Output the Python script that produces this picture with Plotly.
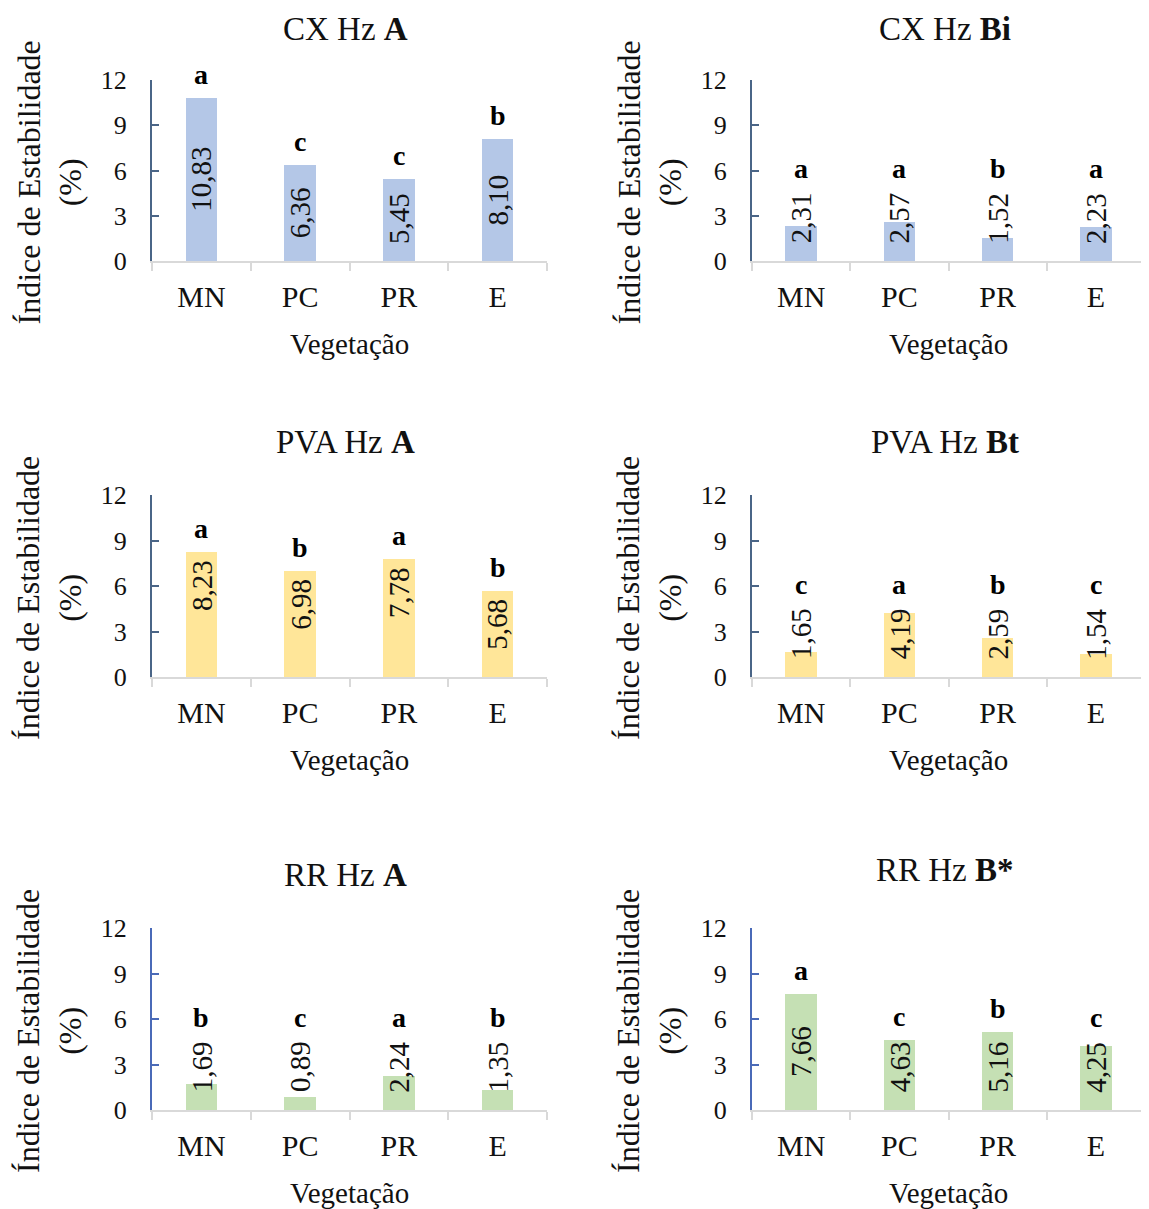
import plotly.graph_objects as go

categories = ["MN", "PC", "PR", "E"]

titles = ["CX Hz <b>A</b>", "CX Hz <b>Bi</b>",
          "PVA Hz <b>A</b>", "PVA Hz <b>Bt</b>",
          "RR Hz <b>A</b>", "RR Hz <b>B*</b>"]

cx_a = [10.83, 6.36, 5.45, 8.10]
cx_bi = [2.31, 2.57, 1.52, 2.23]
pva_a = [8.23, 6.98, 7.78, 5.68]
pva_bt = [1.65, 4.19, 2.59, 1.54]
rr_a = [1.69, 0.89, 2.24, 1.35]
rr_b = [7.66, 4.63, 5.16, 4.25]

letters_cx_a = ["a", "c", "c", "b"]
letters_cx_bi = ["a", "a", "b", "a"]
letters_pva_a = ["a", "b", "a", "b"]
letters_pva_bt = ["c", "a", "b", "c"]
letters_rr_a = ["b", "c", "a", "b"]
letters_rr_b = ["a", "c", "b", "c"]

y_ticks = [0, 3, 6, 9, 12]

series = [cx_a, cx_bi, pva_a, pva_bt, rr_a, rr_b]
letters = [letters_cx_a, letters_cx_bi, letters_pva_a, letters_pva_bt, letters_rr_a, letters_rr_b]

# styling
OFF = 8  # page body margin
W, H = 1149 - OFF, 1209 - OFF
FONT = "Liberation Serif, Times New Roman, serif"
bar_colors = ["#b4c7e7", "#b4c7e7", "#ffe699", "#ffe699", "#c5e0b4", "#c5e0b4"]
yline_colors = ["#4a6587", "#4a6587", "#4a6587", "#4a6587", "#4a6ab8", "#4a6ab8"]
label_mode = ["center", "center", "end", "center", "center", "center"]

# plot-area boxes in screen pixels (left, right) / (top, bottom)
col_x = [(152, 547), (752, 1145)]
row_y = [(80, 261), (495, 677), (928, 1110)]
title_y = [(29, 29), (442, 442), (875, 870)]
xtitle_offset = 83


def px(v):
    return (v - OFF) / W


def py(v):
    return 1 - (v - OFF) / H


fig = go.Figure()
annotations = []

for i, vals in enumerate(series):
    r, c = divmod(i, 2)
    x0, x1 = col_x[c]
    yt, yb = row_y[r]
    ppu = (yb - yt) / 12.0
    xa = "x" if i == 0 else f"x{i+1}"
    ya = "y" if i == 0 else f"y{i+1}"
    fig.add_trace(go.Bar(x=categories, y=vals, xaxis=xa, yaxis=ya,
                         marker=dict(color=bar_colors[i], line=dict(width=0)),
                         width=0.32, showlegend=False, hoverinfo="skip"))
    kx = "xaxis" if i == 0 else f"xaxis{i+1}"
    ky = "yaxis" if i == 0 else f"yaxis{i+1}"
    fig.layout[kx] = dict(domain=[px(x0), px(x1)], anchor=ya, type="category",
                          categoryorder="array", categoryarray=categories,
                          range=[-0.5, 3.5], showline=True, linecolor="#d9d9d9",
                          linewidth=2, ticks="outside", tickson="boundaries",
                          ticklen=8, tickcolor="#d9d9d9", tickwidth=2,
                          showgrid=False, zeroline=False, automargin=False,
                          tickfont=dict(family=FONT, size=30, color="#111"),
                          ticklabelstandoff=8, fixedrange=True)
    fig.layout[ky] = dict(domain=[py(yb), py(yt)], anchor=xa,
                          range=[0, 12], tickvals=y_ticks, showline=True,
                          linecolor=yline_colors[i], linewidth=2,
                          ticks="inside", ticklen=7, tickcolor=yline_colors[i],
                          tickwidth=2, showgrid=False, zeroline=False,
                          automargin=False,
                          tickfont=dict(family=FONT, size=26, color="#111"),
                          ticklabelstandoff=18, fixedrange=True)
    # value labels and letters
    for cat, v, let in zip(categories, vals, letters[i]):
        if label_mode[i] == "end":
            ly = v - 2.2
        else:
            ly = max(v / 2, 2.85)
        annotations.append(dict(x=cat, y=ly, xref=xa, yref=ya, showarrow=False,
                                text=f"{v:.2f}".replace(".", ","), textangle=-90,
                                font=dict(family=FONT, size=29, color="#111")))
        lpos = max(v + 1.55, 6.1)
        annotations.append(dict(x=cat, y=v, xref=xa, yref=ya, yshift=(lpos - v) * ppu,
                                showarrow=False, text=f"<b>{let}</b>",
                                font=dict(family=FONT, size=28, color="#000")))
    # title
    cxp = (x0 + x1) / 2 - 4
    annotations.append(dict(x=px(cxp), y=py(title_y[r][c]), xref="paper", yref="paper",
                            showarrow=False, text=titles[i], xanchor="center",
                            yanchor="middle",
                            font=dict(family=FONT, size=33, color="#111")))
    # x title
    annotations.append(dict(x=px((x0 + x1) / 2), y=py(yb + xtitle_offset),
                            xref="paper", yref="paper", showarrow=False,
                            text="Vegetação", xanchor="center", yanchor="middle",
                            font=dict(family=FONT, size=29, color="#111")))
    # y title
    annotations.append(dict(x=px(x0 - 103), y=py((yt + yb) / 2 + 12),
                            xref="paper", yref="paper", showarrow=False,
                            text="Índice de Estabilidade<br>(%)", textangle=-90,
                            xanchor="center", yanchor="middle",
                            font=dict(family=FONT, size=32, color="#111")))

fig.update_layout(width=W, height=H,
                  margin=dict(l=0, r=0, t=0, b=0, pad=0, autoexpand=False),
                  paper_bgcolor="white", plot_bgcolor="white",
                  annotations=annotations, bargap=0)

fig.write_html("out.html")
